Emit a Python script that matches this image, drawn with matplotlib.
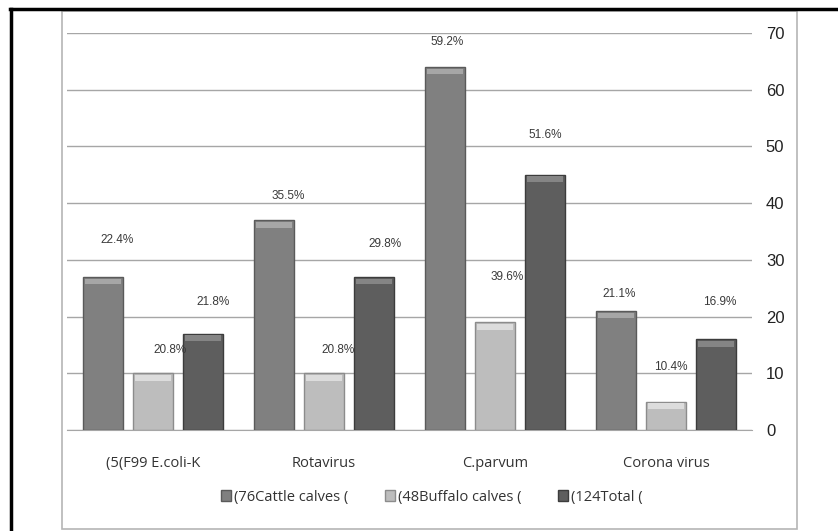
import numpy as np
import matplotlib
matplotlib.use("Agg")
import matplotlib.pyplot as plt
from matplotlib.lines import Line2D
from matplotlib.patches import Rectangle

# Data
CATEGORIES = ["(5(F99 E.coli-K", "Rotavirus", "C.parvum", "Corona virus"]
SERIES = ["(76Cattle calves (", "(48Buffalo calves (", "(124Total ("]
CATTLE = [27, 37, 64, 21]
BUFFALO = [10, 10, 19, 5]
TOTAL = [17, 27, 45, 16]
CATTLE_PCT = ["22.4%", "35.5%", "59.2%", "21.1%"]
BUFFALO_PCT = ["20.8%", "20.8%", "39.6%", "10.4%"]
TOTAL_PCT = ["21.8%", "29.8%", "51.6%", "16.9%"]

# Where each percent label sits relative to its bar top (data units up, points sideways)
LABEL_LIFT = [[6.5, 4.3, 4.4, 3.0],
              [4.1, 4.1, 8.0, 6.1],
              [5.6, 5.8, 7.0, 6.6]]
LABEL_DX = [[15, 14, 2, 3],
            [17, 14, 12, 4],
            [10, 11, 0, 3]]

COLORS = ["#808080", "#bdbdbd", "#5e5e5e"]
EDGES = ["#5a5a5a", "#8c8c8c", "#3c3c3c"]
HILITE = ["#a6a6a6", "#dcdcdc", "#858585"]

W, H = 838, 531
fig = plt.figure(figsize=(W / 100, H / 100), dpi=100)
fig.patch.set_facecolor("white")

# outer black frame (top and left) and gray inner chart border
fig.add_artist(Line2D([10 / W, 1], [1 - 9 / H, 1 - 9 / H], color="black", lw=2.5))
fig.add_artist(Line2D([11 / W, 11 / W], [0, 1 - 9 / H], color="black", lw=2.5))
fig.add_artist(Rectangle((62 / W, 1 - 529 / H), (797 - 62) / W, (529 - 11) / H,
                         fill=False, ec="#b5b5b5", lw=1.2))

ax = fig.add_axes([67 / W, 1 - 430 / H, 685 / W, 397 / H])
ax.set_xlim(-0.5, 3.5)
ax.set_ylim(0, 70)

x = np.arange(len(CATEGORIES))
step = 50 / 171
width = 40 / 171
groups = [CATTLE, BUFFALO, TOTAL]
labels = [CATTLE_PCT, BUFFALO_PCT, TOTAL_PCT]

for i, vals in enumerate(groups):
    pos = x + (i - 1) * step
    ax.bar(pos, vals, width, color=COLORS[i], edgecolor=EDGES[i], lw=1.0,
           zorder=3, label=SERIES[i])
    # bevel highlight along the top
    ax.bar(pos, [1.0] * len(vals), width * 0.9, bottom=np.array(vals) - 1.3,
           color=HILITE[i], lw=0, zorder=4)
    for j, v in enumerate(vals):
        ax.annotate(labels[i][j], (pos[j], v + LABEL_LIFT[i][j]),
                    xytext=(LABEL_DX[i][j] * 0.72, 0), textcoords="offset points",
                    ha="center", va="center", fontsize=8.5, color="#3a3a3a",
                    family=["Liberation Sans Narrow", "Liberation Sans", "DejaVu Sans"],
                    zorder=5)

ax.set_yticks(range(0, 71, 10))
ax.yaxis.tick_right()
ax.tick_params(axis="y", length=0, pad=10, labelsize=12, labelcolor="#222222")
for t in ax.get_yticklabels():
    t.set_family("Liberation Sans")
ax.grid(axis="y", color="#a6a6a6", lw=1, zorder=0)

ax.set_xticks(x)
ax.set_xticklabels(CATEGORIES, fontsize=10.5, color="#333333", family="Open Sans")
ax.tick_params(axis="x", length=0, pad=19)

for s in ["top", "left", "right"]:
    ax.spines[s].set_visible(False)
ax.spines["bottom"].set_color("#a6a6a6")
ax.set_facecolor("none")

handles = [Rectangle((0, 0), 1, 1, fc=COLORS[i], ec=EDGES[i]) for i in range(3)]
leg = fig.legend(handles, SERIES, loc="center", bbox_to_anchor=(432 / W, 1 - 497 / H),
                 ncol=3, frameon=False, handlelength=0.7, handleheight=0.7,
                 handletextpad=0.2, columnspacing=2.5,
                 prop={"family": "Open Sans", "size": 10.5})
for t in leg.get_texts():
    t.set_color("#333333")

fig.savefig("out.png", dpi=100)
